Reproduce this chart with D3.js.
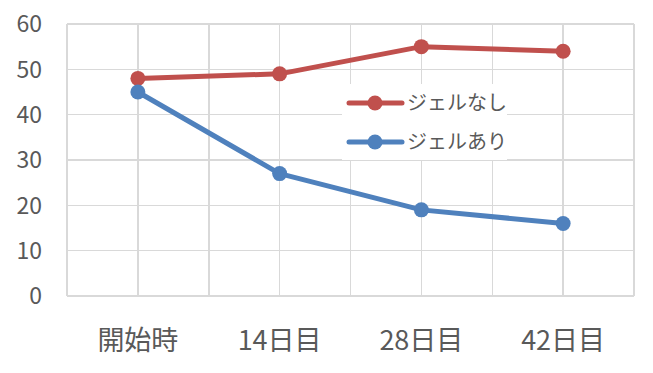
<!DOCTYPE html>
<html lang="ja">
<head>
<meta charset="UTF-8"/>
<title>ジェル比較</title>
<script src="https://d3js.org/d3.v7.min.js"></script>
<style>
  body { margin: 0; background: #fff; }
  text { font-family: "Noto Sans CJK JP", "Noto Sans", sans-serif; fill: #595959; }
  .grid line { stroke: #d9d9d9; stroke-width: 1.5; shape-rendering: crispEdges; }
</style>
</head>
<body>
<script>
// data
const categories = ["開始時", "14日目", "28日目", "42日目"];
const noGel = [48, 49, 55, 54];
const withGel = [45, 27, 19, 16];
const seriesNames = ["ジェルなし", "ジェルあり"];
const yTicks = [0, 10, 20, 30, 40, 50, 60];

const W = 653, H = 373;
const margin = {top: 24, right: 19, bottom: 77, left: 67};
const width = W - margin.left - margin.right;
const height = H - margin.top - margin.bottom;

const svg = d3.select("body").append("svg")
    .attr("width", W)
    .attr("height", H);

const g = svg.append("g")
    .attr("transform", `translate(${margin.left},${margin.top})`);

const x = d3.scalePoint()
    .domain(categories)
    .range([0, width])
    .padding(0.5);

const y = d3.scaleLinear()
    .domain([0, 60])
    .range([height, 0]);

// gridlines: horizontal at ticks, vertical at every half-step
const grid = g.append("g").attr("class", "grid");
grid.selectAll(".h").data(yTicks).join("line")
    .attr("x1", 0).attr("x2", width)
    .attr("y1", d => y(d)).attr("y2", d => y(d));

const step = x.step();
const vIdx = d3.range(0, categories.length * 2 + 1);
grid.selectAll(".v").data(vIdx).join("line")
    .attr("x1", i => i * step / 2).attr("x2", i => i * step / 2)
    .attr("y1", 0).attr("y2", height);

// y tick labels
g.append("g")
  .selectAll("text").data(yTicks).join("text")
    .attr("x", -25)
    .attr("y", d => y(d))
    .attr("dy", "0.36em")
    .attr("text-anchor", "end")
    .style("font-size", "23px")
    .text(d => d);

// x labels
g.append("g")
  .selectAll("text").data(categories).join("text")
    .attr("x", d => x(d))
    .attr("y", height + 54)
    .attr("text-anchor", "middle")
    .style("font-size", "27px")
    .text(d => d);

const colors = ["#C0504D", "#4F81BD"];
const allSeries = [noGel, withGel];

const line = d3.line()
    .x((d, i) => x(categories[i]))
    .y(d => y(d));

allSeries.forEach((vals, s) => {
  g.append("path")
      .datum(vals)
      .attr("fill", "none")
      .attr("stroke", colors[s])
      .attr("stroke-width", 5)
      .attr("stroke-linejoin", "round")
      .attr("d", line);
  g.selectAll(".m" + s).data(vals).join("circle")
      .attr("cx", (d, i) => x(categories[i]))
      .attr("cy", d => y(d))
      .attr("r", 7.5)
      .attr("fill", colors[s]);
});

// legend
const lg = svg.append("g").attr("transform", "translate(342,84)");
lg.append("rect")
    .attr("width", 165).attr("height", 76)
    .attr("fill", "#fff");
seriesNames.forEach((name, i) => {
  const row = lg.append("g").attr("transform", `translate(0,${19 + i * 39})`);
  row.append("line")
      .attr("x1", 7).attr("x2", 60)
      .attr("stroke", colors[i]).attr("stroke-width", 5)
      .attr("stroke-linecap", "round");
  row.append("circle").attr("cx", 33).attr("r", 7.5).attr("fill", colors[i]);
  row.append("text")
      .attr("x", 65).attr("dy", "0.36em")
      .style("font-size", "20px")
      .text(name);
});
</script>
</body>
</html>
